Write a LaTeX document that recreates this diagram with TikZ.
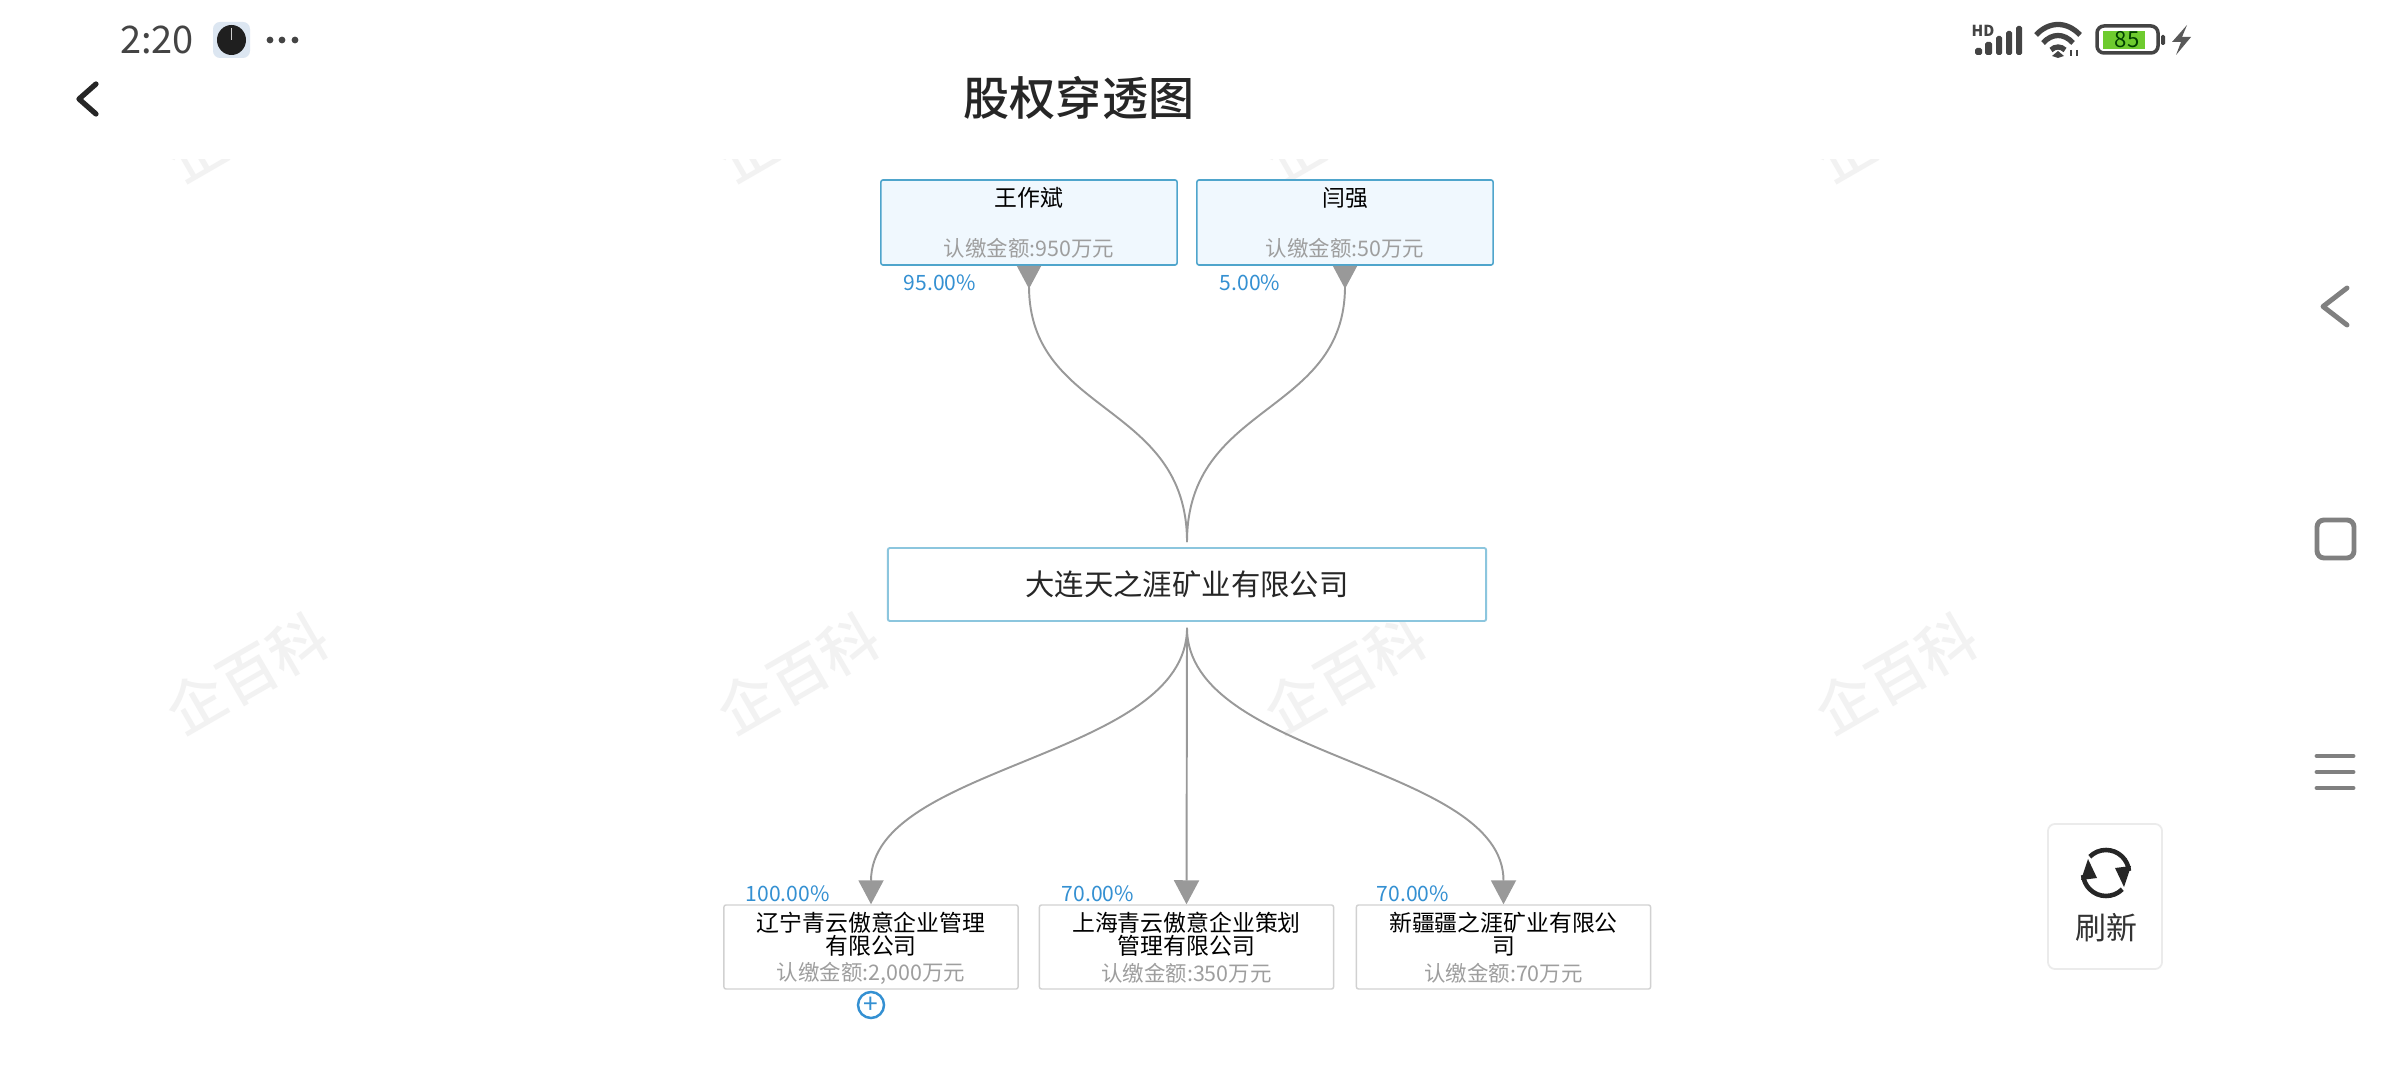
\documentclass[tikz,border=0pt]{standalone}
\usepackage{fontspec}
\setmainfont{Noto Sans CJK SC}
\newfontfamily\titlefont{Noto Sans CJK SC Medium}
\usetikzlibrary{arrows.meta,calc}
\definecolor{linegray}{HTML}{999999}
\definecolor{subgray}{HTML}{9E9E9E}
\definecolor{pctblue}{HTML}{3490D2}
\definecolor{navgray}{HTML}{808080}
\definecolor{statdark}{HTML}{444444}
\definecolor{holderedge}{HTML}{4FA5CC}
\definecolor{holderfill}{HTML}{F0F8FE}
\definecolor{corpedge}{HTML}{8CC6DE}
\definecolor{battgreen}{HTML}{6ECB2F}
\definecolor{clockback}{HTML}{DCE6F1}
\tikzset{
  holderbox/.style={draw=holderedge,fill=holderfill,line width=.45pt,rounded corners=.6pt,minimum width=2.96cm,minimum height=.85cm,inner sep=0pt},
  corpbox/.style={draw=corpedge,fill=white,line width=.55pt,rounded corners=.6pt,minimum width=5.98cm,minimum height=.73cm,inner sep=0pt,font=\fontsize{8.35pt}{10pt}\selectfont,text=black!85},
  subbox/.style={draw=black!18,fill=white,line width=.4pt,rounded corners=.6pt,minimum width=2.94cm,minimum height=.84cm,inner sep=0pt},
  nametext/.style={inner sep=0pt,align=center,text=black,font=\fontsize{6.5pt}{6.5pt}\selectfont},
  moneytext/.style={inner sep=0pt,text=subgray,font=\fontsize{6.1pt}{7pt}\selectfont},
  pcttext/.style={inner sep=0pt,anchor=west,text=pctblue,font=\fontsize{6pt}{7pt}\selectfont},
  wmark/.style={inner sep=0pt,rotate=30,text=black!5,font=\fontsize{16.5pt}{18pt}\selectfont\titlefont},
  uplink/.style={draw=linegray,line width=.55pt,{Triangle[reversed,length=.23cm,width=.24cm,fill=linegray]}-},
  downlink/.style={draw=linegray,line width=.55pt,-{Triangle[length=.24cm,width=.25cm,fill=linegray]}},
  navline/.style={draw=navgray,line width=1.4pt,line cap=round,line join=round},
  refreshline/.style={black!85,line width=1.3pt}
}
\begin{document}
\begin{tikzpicture}[x=.01cm,y=-.01cm]
\useasboundingbox (0,0) rectangle (2400,1080);
\fill[white] (0,0) rectangle (2400,1080);

\foreach \i/\wx in {1/247,2/798,3/1345,4/1896}{
  \node[wmark] (wmlow\i) at (\wx,674) {企百科};
  \begin{scope}
    \clip (0,160) rectangle (2400,400);
    \node[wmark] (wmtop\i) at (\wx,122) {企百科};
  \end{scope}
}

\node[inner sep=0pt,text=statdark,font=\fontsize{10.8pt}{12pt}\selectfont] (clocktext) at (157,40) {2:20};
\fill[clockback,rounded corners=2pt] (213,22) rectangle (250,58);
\fill[black!88] (231.5,40) ellipse [x radius=14.5,y radius=15];
\draw[white!80!black,line width=.5pt] (231.5,28) -- (231.5,40);
\foreach \dx in {270,282,295}
  \fill[statdark] (\dx,40) circle (3.4);
\draw[line width=1.5pt,black!85,line join=round,line cap=round] (96,84) -- (79,99) -- (96,114);
\node[inner sep=0pt,text=black!85,font=\fontsize{13.1pt}{15pt}\selectfont\titlefont] (title) at (1079,98) {股权穿透图};

\node[inner sep=0pt,text=statdark,font=\fontsize{4.3pt}{5pt}\selectfont\bfseries] (hdtext) at (1983,30.5) {HD};
\fill[statdark,rounded corners=.5pt] (1975,48) rectangle (1982,55) (1985,42) rectangle (1992,55) (1996,36) rectangle (2002,55) (2006,31) rectangle (2012,55) (2016,26) rectangle (2022,55);
\draw[statdark,line width=1.5pt] (2036,35) .. controls (2049,21) and (2067,21) .. (2080,35);
\draw[statdark,line width=1.5pt] (2043,43) .. controls (2052,33) and (2064,33) .. (2073,43);
\draw[statdark,line width=1.5pt] (2051,50) .. controls (2055,46) and (2061,46) .. (2065,50);
\fill[statdark] (2058,51) -- (2064,56) -- (2058,58) -- (2052,56) -- cycle;
\draw[statdark,line width=.8pt] (2071,50) -- (2071,56) (2077,50) -- (2077,56);
\fill[battgreen] (2103,31) rectangle (2145,49);
\draw[statdark,line width=1pt,rounded corners=2pt] (2097,26) rectangle (2158,53);
\fill[statdark,rounded corners=.4pt] (2161,35) rectangle (2165,45);
\node[inner sep=0pt,text=green!25!black,font=\fontsize{6.3pt}{7pt}\selectfont] (batterytext) at (2127,40) {85};
\fill[black!65] (2187,25) -- (2172,42) -- (2181,42) -- (2176,55) -- (2191,37) -- (2182,37) -- cycle;

\draw[navline] (2347,288) -- (2323,306.5) -- (2347,325);
\draw[navline,rounded corners=2pt] (2317,520) rectangle (2354,558);
\draw[navline] (2317,756) -- (2353,756) (2317,772) -- (2353,772) (2317,788) -- (2353,788);

\node[draw=black!8,line width=.5pt,rounded corners=2pt,minimum width=1.14cm,minimum height=1.45cm,inner sep=0pt] (refreshbox) at (2105,896.5) {};
\draw[refreshline] (2106,873) ++(225:23) arc[start angle=225,end angle=355,radius=23];
\draw[refreshline] (2106,873) ++(45:23) arc[start angle=45,end angle=175,radius=23];
\fill[black!85] (2088,859) -- (2081,880) -- (2097,878) -- cycle;
\fill[black!85] (2124,887) -- (2131,866) -- (2115,868) -- cycle;
\node[inner sep=0pt,text=black!80,font=\fontsize{8.8pt}{10pt}\selectfont] (refreshtext) at (2106,928) {刷新};

\node[holderbox] (wang) at (1029,222.5) {};
\node[holderbox] (yan) at (1345,222.5) {};
\node[corpbox] (dalian) at (1187,584.5) {大连天之涯矿业有限公司};
\node[subbox] (liaoning) at (871,947) {};
\node[subbox] (shanghai) at (1186.5,947) {};
\node[subbox] (xinjiang) at (1503.5,947) {};

\node[nametext] (wangname) at (1029,197.5) {王作斌};
\node[moneytext] (wangmoney) at (1029,248) {认缴金额:950万元};
\node[nametext] (yanname) at (1345,197.5) {闫强};
\node[moneytext] (yanmoney) at (1345,248) {认缴金额:50万元};
\node[pcttext] (wangpct) at (903,283) {95.00\%};
\node[pcttext] (yanpct) at (1219,283) {5.00\%};

\node[nametext] (liaoningname) at (871,934.5) {辽宁青云傲意企业管理\\有限公司};
\node[moneytext] (liaoningmoney) at (871,973) {认缴金额:2,000万元};
\node[nametext] (shanghainame) at (1186.5,934.5) {上海青云傲意企业策划\\管理有限公司};
\node[moneytext] (shanghaimoney) at (1186.5,973) {认缴金额:350万元};
\node[nametext] (xinjiangname) at (1503.5,934.5) {新疆疆之涯矿业有限公\\司};
\node[moneytext] (xinjiangmoney) at (1503.5,973) {认缴金额:70万元};
\node[pcttext] (liaoningpct) at (745,894) {100.00\%};
\node[pcttext] (shanghaipct) at (1061,894) {70.00\%};
\node[pcttext] (xinjiangpct) at (1376,894) {70.00\%};

\node[draw=pctblue,line width=.7pt,circle,minimum size=.26cm,inner sep=0pt,text=pctblue,font=\fontsize{7.5pt}{8pt}\selectfont] (expand) at (871,1005) {+};

\coordinate (jointop) at ($(dalian.north)+(0,-5)$);
\coordinate (joinlow) at ($(dalian.south)+(0,6)$);
\draw[uplink] (wang.south) .. controls +(0,150) and +(0,-140) .. (jointop);
\draw[uplink] (yan.south) .. controls +(0,150) and +(0,-140) .. (jointop);
\draw[downlink] (joinlow) .. controls +(0,130) and +(0,-140) .. (liaoning.north);
\draw[downlink] (joinlow) -- (shanghai.north);
\draw[downlink] (joinlow) .. controls +(0,130) and +(0,-140) .. (xinjiang.north);
\end{tikzpicture}
\end{document}
